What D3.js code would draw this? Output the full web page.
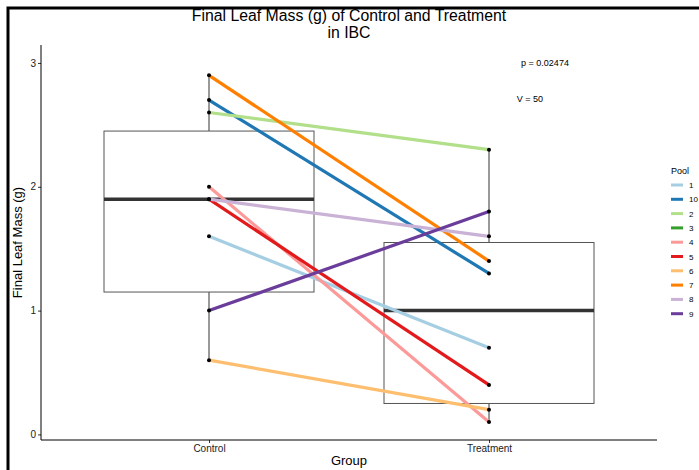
<!DOCTYPE html>
<html>
<head>
<meta charset="utf-8">
<script src="https://cdn.jsdelivr.net/npm/d3@7"></script>
<style>
  body { margin: 0; background: #fff; }
  svg { display: block; font-family: 'Liberation Sans', Arial, sans-serif; }
</style>
</head>
<body>
<div id="chart"></div>
<script>
    // data
    const pools = ['1', '10', '2', '3', '4', '5', '6', '7', '8', '9'];
    const poolColors = ['#a6cee3', '#1f78b4', '#b2df8a', '#33a02c', '#fb9a99', '#e31a1c', '#fdbf6f', '#ff7f00', '#cab2d6', '#6a3d9a'];
    const controlMass = [1.6, 2.7, 2.6, null, 2.0, 1.9, 0.6, 2.9, 1.9, 1.0];
    const treatmentMass = [0.7, 1.3, 2.3, null, 0.1, 0.4, 0.2, 1.4, 1.6, 1.8];
    const groups = ['Control', 'Treatment'];
    const boxLower = [1.15, 0.25];
    const boxMedian = [1.9, 1.0];
    const boxUpper = [2.45, 1.55];
    const whiskerLow = [0.6, 0.1];
    const whiskerHigh = [2.9, 2.3];
    const yTicks = [0, 1, 2, 3];
    const statLabels = ['p = 0.02474', 'V = 50'];
    const statY = [3.0, 2.71];

(function() {
    'use strict';

    const width = 699, height = 470;
    const pLeft = 41, pRight = 657, pTop = 45, pBottom = 440;

    const svg = d3.select('#chart').append('svg')
        .attr('width', width)
        .attr('height', height);

    // frame edges (top + left)
    svg.append('path')
        .attr('d', `M8,${height} L8,8 L${width},8`)
        .attr('fill', 'none')
        .attr('stroke', '#000')
        .attr('stroke-width', 3);

    const x = d3.scalePoint().domain(groups).range([pLeft, pRight]).padding(0.6);
    const y = d3.scaleLinear().domain([-0.045, 3.145]).range([pBottom, pTop]);
    const color = d3.scaleOrdinal().domain(pools).range(poolColors);
    const boxW = x.step() * 0.75;

    // boxplots
    const box = svg.append('g').attr('id', 'boxes');
    groups.forEach((g, i) => {
        const cx = x(g);
        box.append('line')
            .attr('x1', cx).attr('x2', cx)
            .attr('y1', y(whiskerHigh[i])).attr('y2', y(boxUpper[i]))
            .attr('stroke', '#333').attr('stroke-width', 1);
        box.append('line')
            .attr('x1', cx).attr('x2', cx)
            .attr('y1', y(boxLower[i])).attr('y2', y(whiskerLow[i]))
            .attr('stroke', '#333').attr('stroke-width', 1);
        box.append('rect')
            .attr('x', cx - boxW / 2)
            .attr('y', y(boxUpper[i]))
            .attr('width', boxW)
            .attr('height', y(boxLower[i]) - y(boxUpper[i]))
            .attr('fill', 'none')
            .attr('stroke', '#555')
            .attr('stroke-width', 1);
        box.append('line')
            .attr('x1', cx - boxW / 2).attr('x2', cx + boxW / 2)
            .attr('y1', y(boxMedian[i])).attr('y2', y(boxMedian[i]))
            .attr('stroke', '#333').attr('stroke-width', 3.5);
    });

    // paired lines
    const pairs = pools.map((p, i) => ({pool: p, values: [controlMass[i], treatmentMass[i]]}))
        .filter(d => d.values[0] !== null);

    svg.append('g').attr('id', 'pairs').selectAll('line').data(pairs).enter().append('line')
        .attr('x1', x(groups[0]))
        .attr('y1', d => y(d.values[0]))
        .attr('x2', x(groups[1]))
        .attr('y2', d => y(d.values[1]))
        .attr('stroke', d => color(d.pool))
        .attr('stroke-width', 3.2);

    const points = [];
    pairs.forEach(d => {
        points.push({g: groups[0], v: d.values[0]});
        points.push({g: groups[1], v: d.values[1]});
    });
    svg.append('g').attr('id', 'points').selectAll('circle').data(points).enter().append('circle')
        .attr('cx', d => x(d.g))
        .attr('cy', d => y(d.v))
        .attr('r', 2)
        .attr('fill', '#000');

    // axes
    const yAxis = svg.append('g')
        .attr('transform', `translate(${pLeft},0)`)
        .call(d3.axisLeft(y).tickValues(yTicks).tickFormat(d3.format('d')).tickSize(3).tickSizeOuter(0));
    const xAxis = svg.append('g')
        .attr('transform', `translate(0,${pBottom})`)
        .call(d3.axisBottom(x).tickSize(3).tickSizeOuter(0));

    [yAxis, xAxis].forEach(a => {
        a.select('.domain').remove();
        a.selectAll('.tick line').attr('stroke', '#333');
        a.selectAll('.tick text')
            .attr('fill', '#222')
            .style('font-size', '10px')
            .style('font-family', 'Liberation Sans, Arial, sans-serif');
    });
    yAxis.append('line').attr('x1', 0).attr('x2', 0).attr('y1', pTop).attr('y2', pBottom)
        .attr('stroke', '#000').attr('stroke-width', 1);
    yAxis.selectAll('.tick text').attr('x', -5);
    xAxis.append('line').attr('x1', pLeft).attr('x2', pRight).attr('y1', 0).attr('y2', 0)
        .attr('stroke', '#000').attr('stroke-width', 1);
    xAxis.selectAll('.tick text').attr('y', 5);

    // axis titles
    svg.append('text')
        .attr('x', (pLeft + pRight) / 2)
        .attr('y', 465)
        .attr('text-anchor', 'middle')
        .style('font-size', '13px')
        .text('Group');
    svg.append('text')
        .attr('transform', `translate(22,${(pTop + pBottom) / 2}) rotate(-90)`)
        .attr('text-anchor', 'middle')
        .style('font-size', '13px')
        .text('Final Leaf Mass (g)');

    // title, two lines
    svg.append('text')
        .attr('x', (pLeft + pRight) / 2).attr('y', 21)
        .attr('text-anchor', 'middle')
        .style('font-size', '15.8px')
        .text('Final Leaf Mass (g) of Control and Treatment');
    svg.append('text')
        .attr('x', (pLeft + pRight) / 2).attr('y', 38)
        .attr('text-anchor', 'middle')
        .style('font-size', '15.8px')
        .text('in IBC');

    // test statistics
    svg.append('g').selectAll('text').data(statLabels).enter().append('text')
        .attr('x', (d, i) => i === 0 ? 545 : 530)
        .attr('y', (d, i) => y(statY[i]) + 3)
        .attr('text-anchor', 'middle')
        .style('font-size', '9px')
        .text(d => d);

    // legend
    const legend = svg.append('g').attr('transform', 'translate(671,0)');
    legend.append('text')
        .attr('x', 0).attr('y', 174)
        .style('font-size', '9px')
        .text('Pool');
    const rows = legend.selectAll('g.row').data(pools).enter().append('g')
        .attr('class', 'row')
        .attr('transform', (d, i) => `translate(0,${185 + i * 14.3})`);
    rows.append('line')
        .attr('x1', 0).attr('x2', 12)
        .attr('stroke', d => color(d))
        .attr('stroke-width', 3);
    rows.append('text')
        .attr('x', 18).attr('y', 3)
        .style('font-size', '8px')
        .text(d => d);
}());
</script>
</body>
</html>
